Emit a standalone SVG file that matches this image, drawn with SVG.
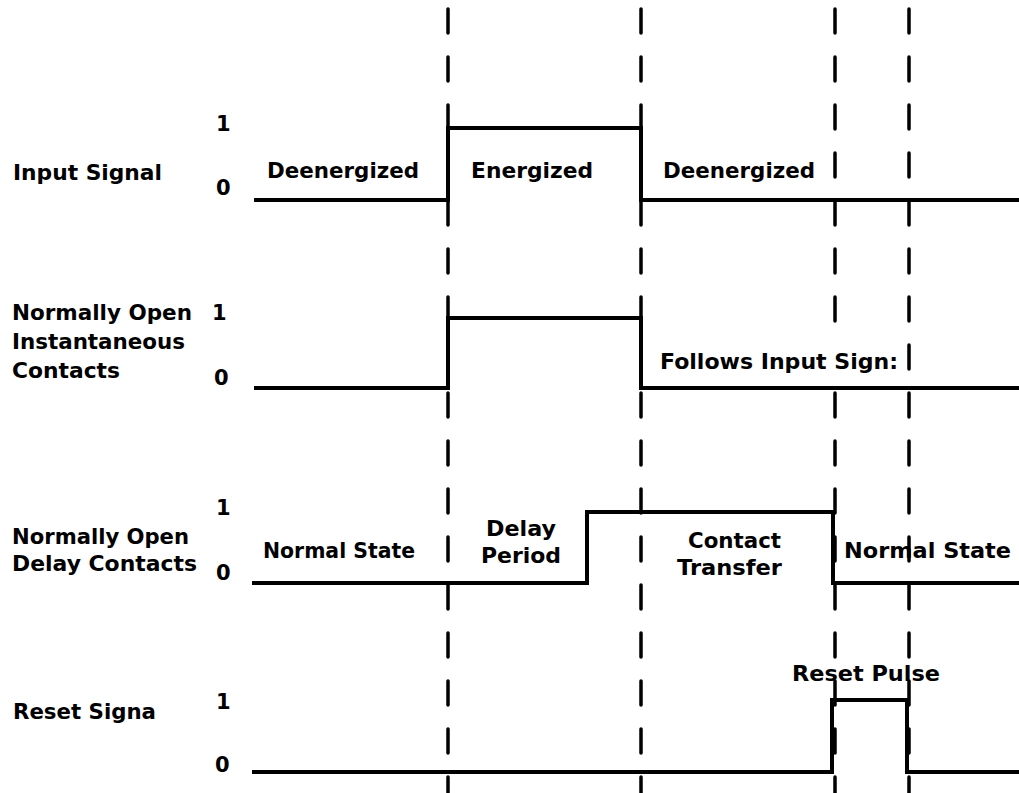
<svg xmlns="http://www.w3.org/2000/svg" width="1019" height="793" viewBox="0 0 1019 793">
<style>
.t{font-family:"DejaVu Sans","Liberation Sans",sans-serif;font-weight:bold;font-size:21px;fill:#000}
.w{fill:none;stroke:#000;stroke-width:4;stroke-linejoin:miter;stroke-linecap:butt}
.d{stroke:#000;stroke-width:3.5;stroke-dasharray:24 24;stroke-linecap:round}
</style>
<rect width="1019" height="793" fill="#fff"/>
<g id="markers">
<line class="d" x1="448" y1="9" x2="448" y2="793"/>
<line class="d" x1="641" y1="9" x2="641" y2="793"/>
<line class="d" x1="835" y1="9" x2="835" y2="793"/>
<line class="d" x1="909" y1="9" x2="909" y2="793"/>
</g>
<g id="input-signal">
<text class="t" x="13" y="180" textLength="149" lengthAdjust="spacingAndGlyphs">Input Signal</text>
<text class="t" x="216" y="131">1</text>
<text class="t" x="216" y="195">0</text>
<polyline class="w" points="254,200 448,200 448,128 641,128 641,200 1019,200"/>
<text class="t" x="267" y="178" textLength="152" lengthAdjust="spacingAndGlyphs">Deenergized</text>
<text class="t" x="471" y="178" textLength="122" lengthAdjust="spacingAndGlyphs">Energized</text>
<text class="t" x="663" y="178" textLength="152" lengthAdjust="spacingAndGlyphs">Deenergized</text>
</g>
<g id="instant-contacts">
<text class="t" x="12" y="320" textLength="180" lengthAdjust="spacingAndGlyphs">Normally Open</text>
<text class="t" x="12" y="349" textLength="173" lengthAdjust="spacingAndGlyphs">Instantaneous</text>
<text class="t" x="12" y="378" textLength="108" lengthAdjust="spacingAndGlyphs">Contacts</text>
<text class="t" x="212" y="320">1</text>
<text class="t" x="214" y="385">0</text>
<polyline class="w" points="254,388 448,388 448,318 641,318 641,388 1019,388"/>
<rect x="800" y="339" width="100" height="36" fill="#fff"/>
<text class="t" x="660" y="369" textLength="238" lengthAdjust="spacingAndGlyphs">Follows Input Sign:</text>
</g>
<g id="delay-contacts">
<text class="t" x="12" y="544" textLength="177" lengthAdjust="spacingAndGlyphs">Normally Open</text>
<text class="t" x="12" y="571" textLength="185" lengthAdjust="spacingAndGlyphs">Delay Contacts</text>
<text class="t" x="216" y="515">1</text>
<text class="t" x="216" y="580">0</text>
<polyline class="w" points="252,583 587,583 587,512 833,512 833,583 1019,583"/>
<text class="t" x="263" y="558" textLength="152" lengthAdjust="spacingAndGlyphs">Normal State</text>
<text class="t" x="486" y="536" textLength="70" lengthAdjust="spacingAndGlyphs">Delay</text>
<text class="t" x="481" y="563" textLength="80" lengthAdjust="spacingAndGlyphs">Period</text>
<text class="t" x="688" y="548" textLength="93" lengthAdjust="spacingAndGlyphs">Contact</text>
<text class="t" x="677" y="575" textLength="105" lengthAdjust="spacingAndGlyphs">Transfer</text>
<text class="t" x="844" y="558" textLength="167" lengthAdjust="spacingAndGlyphs">Normal State</text>
</g>
<g id="reset-signal">
<text class="t" x="13" y="719" textLength="143" lengthAdjust="spacingAndGlyphs">Reset Signa</text>
<text class="t" x="216" y="709">1</text>
<text class="t" x="215" y="772">0</text>
<polyline class="w" points="252,772 832,772 832,700 907,700 907,772 1019,772"/>
<text class="t" x="792" y="681" textLength="148" lengthAdjust="spacingAndGlyphs">Reset Pulse</text>
</g>
</svg>
